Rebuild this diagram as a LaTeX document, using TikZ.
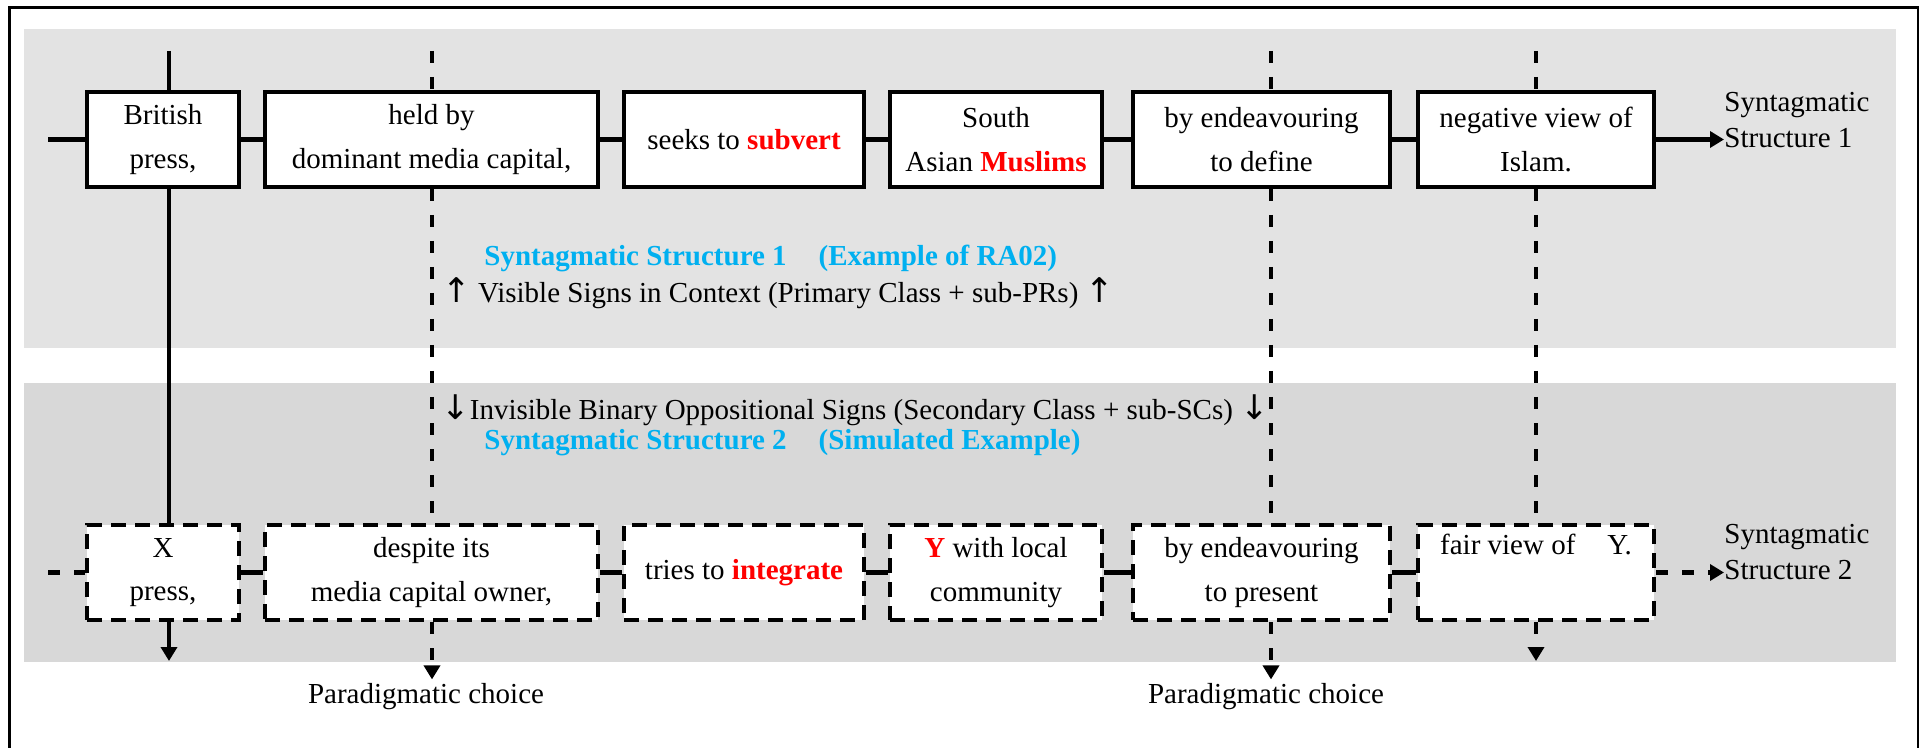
\documentclass[tikz,border=0pt]{standalone}
\usepackage{fontspec}
\setmainfont{Liberation Serif}
\newfontfamily\arrfont{DejaVu Sans}
\usetikzlibrary{arrows.meta}
\definecolor{bandA}{HTML}{E3E3E3}
\definecolor{bandB}{HTML}{D8D8D8}
\definecolor{sblue}{HTML}{00B0F0}
\definecolor{sred}{HTML}{FF0000}
\newcommand{\uparr}{{\arrfont\fontsize{17}{18}\selectfont ↑}}
\newcommand{\dnarr}{{\arrfont\fontsize{17}{18}\selectfont ↓}}
\begin{document}
\begin{tikzpicture}[x=0.5pt,y=-0.5pt,
  font=\fontsize{14.5}{21.75}\selectfont,
  wbox/.style={draw, line width=2pt, fill=white, align=center, minimum height=47.5pt, inner sep=0pt},
  dbox/.style={wbox, dash pattern=on 7.5pt off 4.5pt},
  solidlink/.style={line width=2.3pt},
  dashlink/.style={line width=2.3pt, dash pattern=on 6pt off 7pt},
  tipend/.style={-{Triangle[length=7pt,width=8pt]}},
  lbl/.style={align=left, inner sep=0pt, font=\fontsize{14.5}{18}\selectfont, anchor=west},
  mid/.style={anchor=west, inner sep=0pt, font=\fontsize{14.5}{18}\selectfont},
  bluehead/.style={mid, text=sblue, font=\fontsize{14.5}{18}\selectfont\bfseries},
]
\useasboundingbox (0,0) rectangle (1921,748);
\fill[bandA] (24,29) rectangle (1896,348);
\fill[bandB] (24,383) rectangle (1896,662);
\draw[line width=1.3pt] (9.5,748) -- (9.5,7.5) -- (1918,7.5) -- (1918,748);

% top row
\node[wbox, minimum width=76pt]  (a1) at (163,139.5)   {British\\press,};
\node[wbox, minimum width=166.5pt] (a2) at (431.5,139.5) {held by\\dominant media capital,};
\node[wbox, minimum width=120pt] (a3) at (744,139.5)   {seeks to \textbf{\color{sred}subvert}};
\node[wbox, minimum width=106pt] (a4) at (996,139.5)   {South\\Asian \textbf{\color{sred}Muslims}};
\node[wbox, minimum width=128.5pt] (a5) at (1261.5,139.5){by endeavouring\\to define};
\node[wbox, minimum width=118pt] (a6) at (1536,139.5)  {negative view of\\Islam.};

% bottom row
\node[dbox, minimum width=76pt]  (b1) at (163,572.5)   {X\\press,};
\node[dbox, minimum width=166.5pt] (b2) at (431.5,572.5) {despite its\\media capital owner,};
\node[dbox, minimum width=120pt] (b3) at (744,572.5)   {tries to \textbf{\color{sred}integrate}};
\node[dbox, minimum width=106pt] (b4) at (996,572.5)   {\textbf{\color{sred}Y} with local\\community};
\node[dbox, minimum width=128.5pt] (b5) at (1261.5,572.5){by endeavouring\\to present};
\node[dbox, minimum width=118pt] (b6) at (1536,572.5)  {fair view of\hspace{16pt}Y.\\\strut};

% right labels
\node[lbl] (s1) at (1724,120)   {Syntagmatic\\Structure 1};
\node[lbl] (s2) at (1724,552.5) {Syntagmatic\\Structure 2};

% middle texts
\node[bluehead] (m1) at (484,258) {Syntagmatic Structure 1\hspace{16pt}(Example of RA02)};
\node[mid] (m2) at (442,293) {\uparr\ Visible Signs in Context (Primary Class + sub-PRs) \uparr};
\node[mid] (m3) at (441,410) {\dnarr Invisible Binary Oppositional Signs (Secondary Class + sub-SCs) \dnarr};
\node[bluehead] (m4) at (484,443) {Syntagmatic Structure 2\hspace{16pt}(Simulated Example)};

% paradigmatic labels
\node[inner sep=2pt] (p1) at (426,697) {Paradigmatic choice};
\node[inner sep=2pt] (p2) at (1266,697) {Paradigmatic choice};

% horizontal chains
\coordinate (l1) at (48,139.5);
\coordinate (l2) at (48,572.5);
\draw[solidlink] (l1) -- (a1.west);
\draw[solidlink] (a1) -- (a2);
\draw[solidlink] (a2) -- (a3);
\draw[solidlink] (a3) -- (a4);
\draw[solidlink] (a4) -- (a5);
\draw[solidlink] (a5) -- (a6);
\draw[solidlink, tipend] (a6.east) -- (s1.west |- a6.east);

\draw[dashlink] (l2) -- (b1.west);
\draw[solidlink] (b1) -- (b2);
\draw[solidlink] (b2) -- (b3);
\draw[solidlink] (b3) -- (b4);
\draw[solidlink] (b4) -- (b5);
\draw[solidlink] (b5) -- (b6);
\draw[dashlink, tipend] (b6.east) -- (s2.west |- b6.east);

% vertical lines
\coordinate (v1) at (169,51);  \coordinate (v1e) at (169,661);
\coordinate (v2) at (432,51);
\coordinate (v3) at (1271,51);
\coordinate (v4) at (1536,51); \coordinate (v4e) at (1536,661);

\draw[solidlink] (v1) -- (v1 |- a1.north);
\draw[solidlink] (v1 |- a1.south) -- (v1 |- b1.north);
\draw[solidlink, tipend] (v1 |- b1.south) -- (v1e);

\draw[dashlink] (v2) -- (v2 |- a2.north);
\draw[dashlink] (v2 |- a2.south) -- (v2 |- b2.north);
\draw[dashlink, tipend] (v2 |- b2.south) -- (v2 |- p1.north);

\draw[dashlink] (v3) -- (v3 |- a5.north);
\draw[dashlink] (v3 |- a5.south) -- (v3 |- b5.north);
\draw[dashlink, tipend] (v3 |- b5.south) -- (v3 |- p2.north);

\draw[dashlink] (v4) -- (v4 |- a6.north);
\draw[dashlink] (v4 |- a6.south) -- (v4 |- b6.north);
\draw[dashlink, tipend] (v4 |- b6.south) -- (v4e);
\end{tikzpicture}
\end{document}
